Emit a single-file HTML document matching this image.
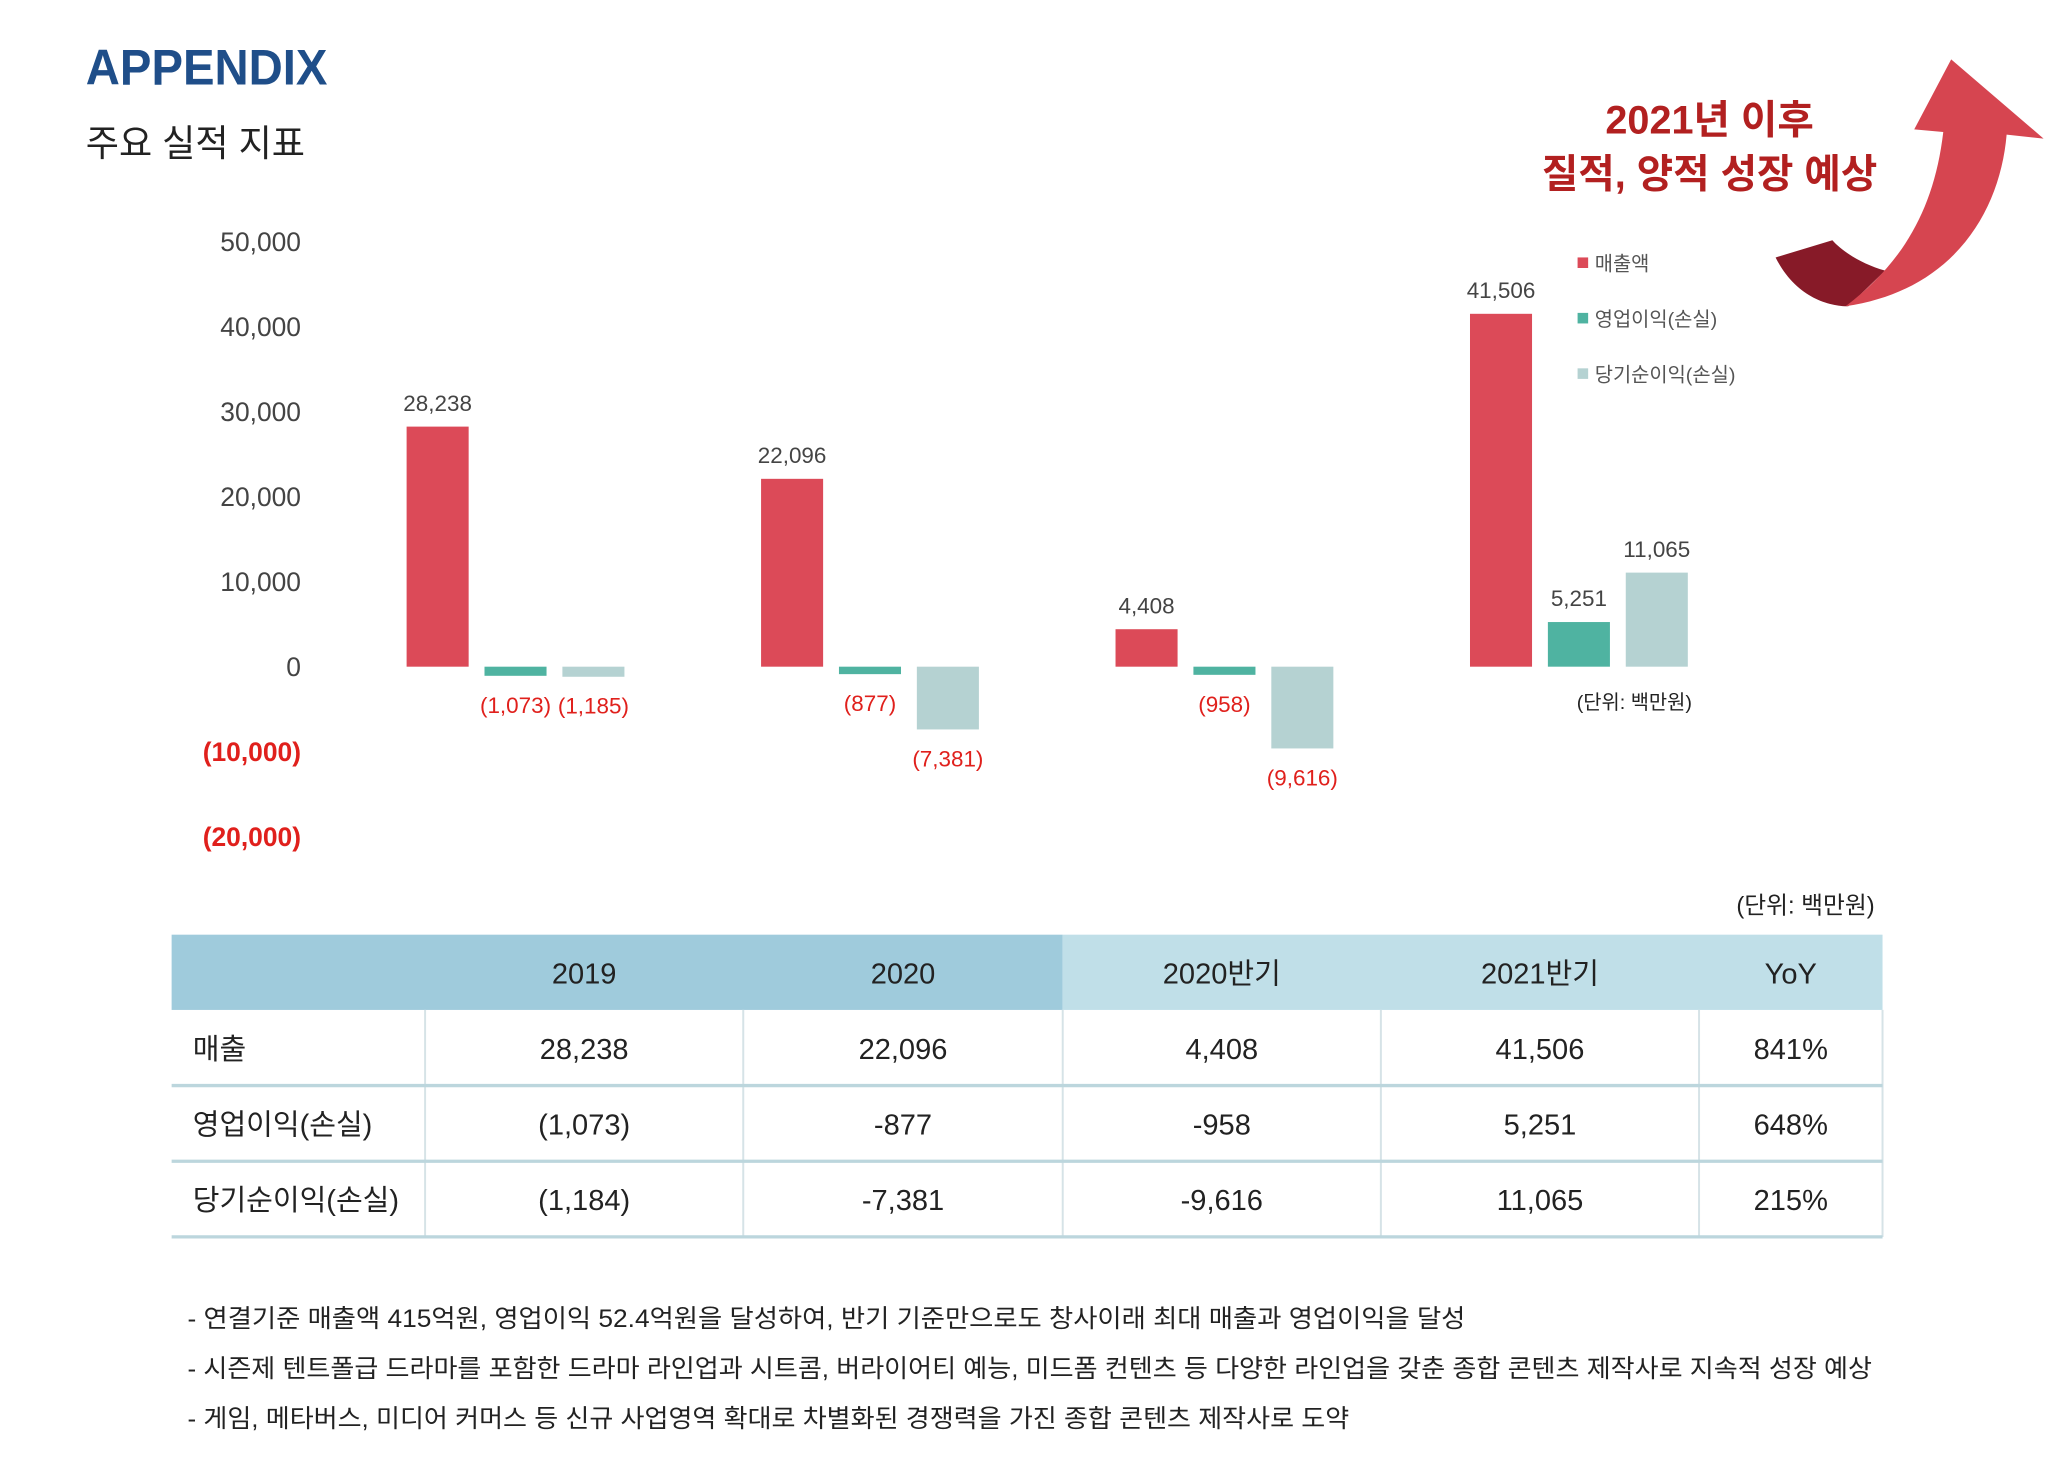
<!DOCTYPE html>
<html><head><meta charset="utf-8"><style>
html,body{margin:0;padding:0;background:#fff}
svg{display:block}
text{font-family:"Liberation Sans","Noto Sans CJK KR",sans-serif}
</style></head><body>
<svg id="chart" width="2070" height="1484" viewBox="0 0 1568 1124.1" xmlns="http://www.w3.org/2000/svg">
<text x="65" y="64" font-size="38" font-weight="bold" fill="#1f4e89" textLength="183" lengthAdjust="spacingAndGlyphs">APPENDIX</text>
<text x="65" y="118" font-size="28" fill="#222" textLength="166" lengthAdjust="spacingAndGlyphs">주요 실적 지표</text>
<text x="1295" y="101" font-size="30" font-weight="bold" fill="#b22020" text-anchor="middle">2021년 이후</text>
<text x="1295" y="142" font-size="30" font-weight="bold" fill="#b22020" text-anchor="middle">질적, 양적 성장 예상</text>
<g>
<path d="M1345,195 C1360,225 1385,232 1400,232 L1428,205 C1410,200 1395,190 1388,182 Z" fill="#871a28"/>
<path d="M1398,232 C1480,220 1515,160 1520,102 L1548,105 L1478,45 L1450,98 L1472,100 C1465,160 1440,200 1398,232 Z" fill="#d64550"/>
</g>
<g id="yaxis"></g>
<g id="bars"></g>
<g>
<rect x="1195" y="195" width="8" height="8" fill="#dc4a58"/><text x="1208" y="205" font-size="15" fill="#555">매출액</text>
<rect x="1195" y="237" width="8" height="8" fill="#4fb3a1"/><text x="1208" y="247" font-size="15" fill="#555">영업이익(손실)</text>
<rect x="1195" y="279" width="8" height="8" fill="#b5d2d2"/><text x="1208" y="289" font-size="15" fill="#555">당기순이익(손실)</text>
</g>
<text x="1238" y="537" font-size="15" fill="#222" text-anchor="middle">(단위: 백만원)</text>
<text x="1420" y="692" font-size="18" fill="#222" text-anchor="end">(단위: 백만원)</text>
<g id="table"></g>
<g font-size="19" fill="#222">
<text x="142" y="1005" textLength="968" lengthAdjust="spacingAndGlyphs">- 연결기준 매출액 415억원, 영업이익 52.4억원을 달성하여, 반기 기준만으로도 창사이래 최대 매출과 영업이익을 달성</text>
<text x="142" y="1043" textLength="1276" lengthAdjust="spacingAndGlyphs">- 시즌제 텐트폴급 드라마를 포함한 드라마 라인업과 시트콤, 버라이어티 예능, 미드폼 컨텐츠 등 다양한 라인업을 갖춘 종합 콘텐츠 제작사로 지속적 성장 예상</text>
<text x="142" y="1081" textLength="880" lengthAdjust="spacingAndGlyphs">- 게임, 메타버스, 미디어 커머스 등 신규 사업영역 확대로 차별화된 경쟁력을 가진 종합 콘텐츠 제작사로 도약</text>
</g>
</svg>
<script>
const categories = ["2019","2020","2020반기","2021반기"];
const revenue = [28238,22096,4408,41506];
const opIncome = [-1073,-877,-958,5251];
const netIncome = [-1185,-7381,-9616,11065];
const yTicks = [50000,40000,30000,20000,10000,0,-10000,-20000];
const tableCols = ["","2019","2020","2020반기","2021반기","YoY"];
const tableRows = [
 ["매출","28,238","22,096","4,408","41,506","841%"],
 ["영업이익(손실)","(1,073)","-877","-958","5,251","648%"],
 ["당기순이익(손실)","(1,184)","-7,381","-9,616","11,065","215%"]
];
const NS="http://www.w3.org/2000/svg";
function el(t,a,p){const e=document.createElementNS(NS,t);for(const k in a)e.setAttribute(k,a[k]);p.appendChild(e);return e;}
const y=v=>505-v*0.00644;
const gx=i=>308+i*268.5;
const fmt=v=>v<0?"("+Math.abs(v).toLocaleString("en-US")+")":v.toLocaleString("en-US");
const ya=document.getElementById("yaxis");
yTicks.forEach(t=>{
 const e=el("text",{x:228,y:y(t)+7,"font-size":20,"text-anchor":"end",fill:t<0?"#e0201c":"#444","font-weight":t<0?"bold":"normal"},ya);
 
 
 e.textContent=fmt(t);
});
const bg=document.getElementById("bars");
const series=[[revenue,"#dc4a58","revenue"],[opIncome,"#4fb3a1","operating-income"],[netIncome,"#b5d2d2","net-income"]];
categories.forEach((c,i)=>{
 series.forEach(([vals,col,nm],s)=>{
  const v=vals[i], x=gx(i)+s*59, top=Math.min(y(v),y(0)), h=Math.abs(y(v)-y(0));
  const r=el("rect",{x:x,y:top,width:47,height:Math.max(h,1),fill:col},bg);
  
  
  const lbl=el("text",{x:x+23.5,y:v>=0?top-12:top+h+28,"font-size":17,"text-anchor":"middle",fill:v>=0?"#444":"#e0201c"},bg);
  
  
  lbl.textContent=fmt(v);
 });
});
const tb=document.getElementById("table");
const cx=[130,322,563,805,1046,1287,1426];
el("rect",{x:130,y:708,width:675,height:57,fill:"#9fcbdc"},tb);
el("rect",{x:805,y:708,width:621,height:57,fill:"#c0dfe8"},tb);
tableCols.forEach((h,j)=>{
 if(!h)return;
 const e=el("text",{x:(cx[j]+cx[j+1])/2,y:745,"font-size":22,"text-anchor":"middle",fill:"#222"},tb);
 
 
 e.textContent=h;
});
for(let j=1;j<6;j++)el("line",{x1:cx[j],y1:765,x2:cx[j],y2:937,stroke:"#d6e3e7","stroke-width":1.5},tb);
el("line",{x1:1426,y1:765,x2:1426,y2:937,stroke:"#d6e3e7","stroke-width":1.5},tb);
tableRows.forEach((row,i)=>{
 const yt=765+i*57.3;
 row.forEach((v,j)=>{
  const e=el("text",{x:j===0?146:(cx[j]+cx[j+1])/2,y:yt+37,"font-size":22,"text-anchor":j===0?"start":"middle",fill:"#222"},tb);
  
  
  e.textContent=v;
 });
 el("line",{x1:130,y1:yt+57.3,x2:1426,y2:yt+57.3,stroke:"#bcd6dd","stroke-width":2.5},tb);
});
</script>
</body></html>
